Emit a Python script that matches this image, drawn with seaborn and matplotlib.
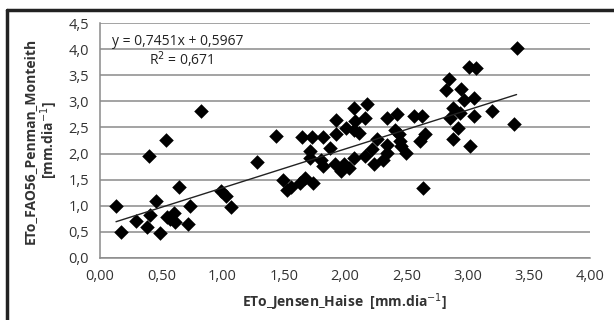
import matplotlib
matplotlib.use("Agg")
import matplotlib.pyplot as plt
import matplotlib.ticker as mticker
import seaborn as sns
import pandas as pd

# data
jensen_haise = [
    0.13, 0.17, 0.29, 0.38, 0.41, 0.40, 0.46, 0.49, 0.54, 0.55, 0.57, 0.60,
    0.61, 0.645, 0.72, 0.73, 0.82, 0.99, 1.03, 1.07, 1.28, 1.44,
    1.49, 1.53, 1.56, 1.63, 1.67, 1.74,
    1.65, 1.73, 1.82, 1.93, 1.93, 2.01, 2.07, 1.71, 1.88, 1.71, 1.80, 1.82,
    1.92, 1.99, 1.97, 2.03,
    2.08, 2.07, 2.18, 2.16, 2.34, 2.42, 2.56, 2.63, 2.41, 2.44, 2.65, 2.61,
    2.26, 2.45, 2.34, 2.46, 2.22, 2.50, 2.07, 2.16, 2.34, 2.31, 2.24, 2.64,
    2.11,
    3.40, 3.01, 3.07, 2.85, 2.82, 2.95, 2.97, 3.05, 2.88, 2.94, 2.86, 3.05,
    3.20, 2.92, 2.88, 3.02, 3.38,
]
penman_monteith = [
    0.99, 0.50, 0.70, 0.59, 0.83, 1.95, 1.10, 0.47, 2.26, 0.79, 0.74, 0.86,
    0.68, 1.35, 0.65, 1.00, 2.81, 1.28, 1.18, 0.97, 1.83, 2.33,
    1.50, 1.30, 1.35, 1.44, 1.54, 1.44,
    2.31, 2.31, 2.31, 2.65, 2.38, 2.49, 2.88, 2.04, 2.11, 1.92, 1.88, 1.76,
    1.79, 1.79, 1.66, 1.72,
    2.62, 2.46, 2.94, 2.69, 2.69, 2.75, 2.72, 2.72, 2.46, 2.37, 2.37, 2.24,
    2.27, 2.24, 2.17, 2.14, 2.08, 2.01, 1.92, 1.95, 2.01, 1.88, 1.79, 1.34,
    2.40,
    4.03, 3.65, 3.63, 3.42, 3.21, 3.24, 3.02, 3.07, 2.88, 2.78, 2.69, 2.72,
    2.81, 2.49, 2.27, 2.14, 2.56,
]
slope = 0.7451
intercept = 0.5967
r_squared = 0.671

df = pd.DataFrame({"x": jensen_haise, "y": penman_monteith})

sns.set_style("white")
plt.rcParams["font.family"] = ["Open Sans", "DejaVu Sans"]

fig = plt.figure(figsize=(6.14, 3.2), dpi=100)
ax = fig.add_axes([0.163, 0.194, 0.798, 0.734])

sns.scatterplot(x="x", y="y", data=df, marker="D", s=55, color="black",
                linewidth=0, ax=ax, zorder=3)

# trend line
x_line = [min(jensen_haise), max(jensen_haise)]
y_line = [slope * v + intercept for v in x_line]
ax.plot(x_line, y_line, color="#222222", lw=1.0, zorder=4)

ax.set_xlim(0, 4.0)
ax.set_ylim(0, 4.5)
ax.xaxis.set_major_locator(mticker.MultipleLocator(0.5))
ax.yaxis.set_major_locator(mticker.MultipleLocator(0.5))
ax.xaxis.set_major_formatter(mticker.FuncFormatter(lambda v, p: f"{v:.2f}".replace(".", ",")))
ax.yaxis.set_major_formatter(mticker.FuncFormatter(lambda v, p: f"{v:.1f}".replace(".", ",")))

ax.grid(axis="y", color="#8a8a8a", lw=1.1)
ax.set_axisbelow(True)
for s in ["top", "right"]:
    ax.spines[s].set_visible(False)
for s in ["left", "bottom"]:
    ax.spines[s].set_color("#8a8a8a")
    ax.spines[s].set_linewidth(1.1)
ax.tick_params(axis="both", direction="out", length=4, width=1, color="#8a8a8a",
               labelsize=10.5, labelcolor="#333333", pad=4)

ax.set_xlabel("ETo_Jensen_Haise  [mm.dia$^{-1}$]", fontsize=10, fontweight="bold",
              color="#333333", labelpad=5)
ax.set_ylabel("ETo_FAO56_Penman_Monteith\n[mm.dia$^{-1}$]", fontsize=10,
              fontweight="bold", color="#333333", labelpad=6, linespacing=1.1)

ax.text(0.10, 4.0, "y = 0,7451x + 0,5967", fontsize=10, color="#222222", va="bottom")
ax.text(0.40, 3.6, "R$^2$ = 0,671", fontsize=10, color="#222222", va="bottom")

# frame lines at the top and left of the figure
fig.add_artist(plt.Line2D([0.012, 0.012], [0.0, 0.97], transform=fig.transFigure,
                          color="#222222", lw=2.5))
fig.add_artist(plt.Line2D([0.012, 1.0], [0.97, 0.97], transform=fig.transFigure,
                          color="#222222", lw=2.5))

fig.savefig("out.png", dpi=100)
